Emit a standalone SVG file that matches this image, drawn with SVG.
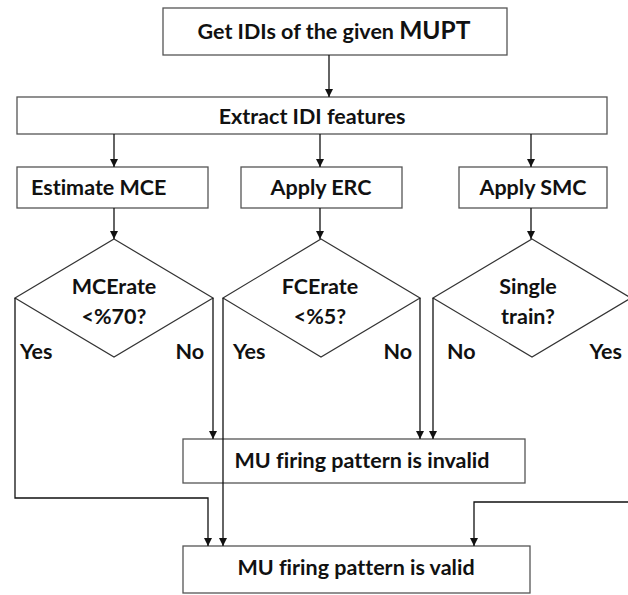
<svg xmlns="http://www.w3.org/2000/svg" width="628" height="595" viewBox="0 0 628 595">
  <defs>
    <marker id="arrow" viewBox="0 0 10 10" refX="10" refY="5" markerWidth="8" markerHeight="8" markerUnits="userSpaceOnUse" orient="auto">
      <path d="M0,0 L10,5 L0,10 z" fill="#111"/>
    </marker>
    <style>
      .box { fill: #fff; stroke: #555; stroke-width: 1.3; }
      .dia { fill: #fff; stroke: #333; stroke-width: 1.2; }
      .lbl { font-family: Lato, "Liberation Sans", sans-serif; font-weight: bold; font-size: 21.5px; fill: #111; font-variant-ligatures: none; }
      .mid { text-anchor: middle; }
      .edge { fill: none; stroke: #111; stroke-width: 1.3; }
      .arr { marker-end: url(#arrow); }
    </style>
  </defs>
  <rect width="628" height="595" fill="#fff"/>

  <g id="get-idis">
    <rect class="box" x="163" y="8" width="344" height="47"/>
    <text class="lbl mid" x="334" y="39" font-size="21">Get IDIs of the given <tspan font-size="24.5">MUPT</tspan></text>
  </g>

  <g id="extract">
    <rect class="box" x="17" y="97" width="590" height="37"/>
    <text class="lbl mid" x="312" y="124">Extract IDI features</text>
  </g>

  <g id="estimate-mce">
    <rect class="box" x="17" y="167" width="191" height="41"/>
    <text class="lbl" x="31" y="195">Estimate MCE</text>
  </g>

  <g id="apply-erc">
    <rect class="box" x="241" y="167" width="161" height="41"/>
    <text class="lbl mid" x="321" y="195">Apply ERC</text>
  </g>

  <g id="apply-smc">
    <rect class="box" x="459" y="167" width="148" height="41"/>
    <text class="lbl mid" x="533" y="195">Apply SMC</text>
  </g>

  <g id="mce-decision">
    <polygon class="dia" points="114,239 213,298 114,357 15,298"/>
    <text class="lbl mid" x="114" y="294">MCErate</text>
    <text class="lbl mid" x="114" y="324">&lt;%70?</text>
  </g>

  <g id="fce-decision">
    <polygon class="dia" points="321,239 420,298 321,357 223,298"/>
    <text class="lbl mid" x="320" y="294">FCErate</text>
    <text class="lbl mid" x="320" y="324">&lt;%5?</text>
  </g>

  <g id="single-decision">
    <polygon class="dia" points="532,239 631,298 532,357 433,298"/>
    <text class="lbl mid" x="528" y="294">Single</text>
    <text class="lbl mid" x="528" y="324">train?</text>
  </g>

  <g id="invalid">
    <rect class="box" x="183" y="439" width="342" height="44"/>
    <text class="lbl mid" x="362" y="468">MU firing pattern is invalid</text>
  </g>

  <g id="valid">
    <rect class="box" x="183" y="546" width="347" height="47"/>
    <text class="lbl mid" x="356" y="575">MU firing pattern is valid</text>
  </g>

  <g id="connectors">
    <path class="edge arr" d="M329,55 V97"/>
    <path class="edge arr" d="M114,134 V167"/>
    <path class="edge arr" d="M320,134 V167"/>
    <path class="edge arr" d="M531,134 V167"/>
    <path class="edge arr" d="M114,208 V239"/>
    <path class="edge arr" d="M320,208 V239"/>
    <path class="edge arr" d="M531,208 V239"/>
    <path class="edge arr" d="M15,298 V498 H208 V546"/>
    <path class="edge arr" d="M213,298 V439"/>
    <path class="edge arr" d="M223,298 V546"/>
    <path class="edge arr" d="M420,298 V439"/>
    <path class="edge arr" d="M433,298 V439"/>
    <path class="edge arr" d="M631,298 V502 H474 V546"/>
  </g>

  <g id="branch-labels">
    <text class="lbl" x="20" y="359">Yes</text>
    <text class="lbl" x="204" y="359" text-anchor="end">No</text>
    <text class="lbl" x="233" y="359">Yes</text>
    <text class="lbl" x="412" y="359" text-anchor="end">No</text>
    <text class="lbl" x="447" y="359">No</text>
    <text class="lbl" x="622" y="359" text-anchor="end">Yes</text>
  </g>
</svg>
